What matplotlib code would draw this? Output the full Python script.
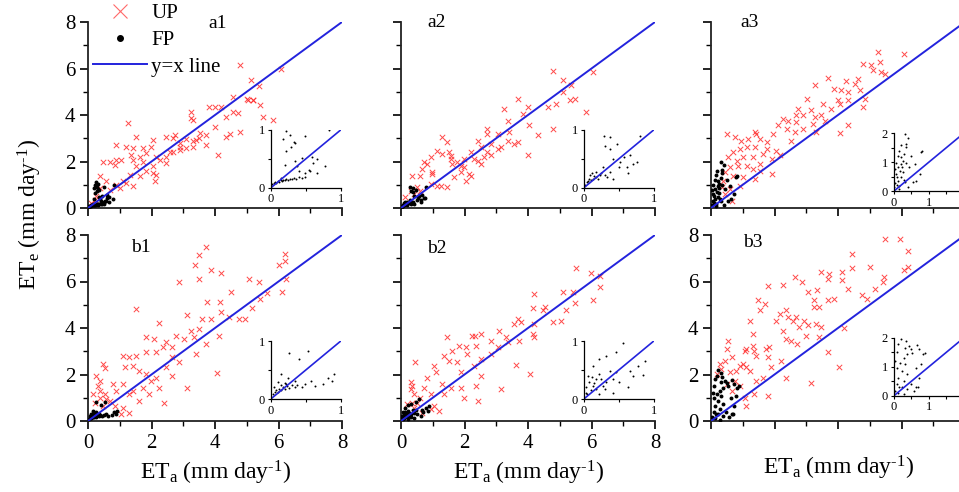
import numpy as np
import matplotlib
matplotlib.use('Agg')
import matplotlib.pyplot as plt
from matplotlib.lines import Line2D

plt.rcParams['font.family'] = ['Liberation Serif', 'DejaVu Serif']
plt.rcParams['mathtext.fontset'] = 'custom'
plt.rcParams['mathtext.rm'] = 'Liberation Serif'
plt.rcParams['mathtext.it'] = 'Liberation Serif:italic'

# ---- data (ETa, ETe in mm/day) ----
# UP = unfrozen period (red crosses), FP = frozen period (black dots)
A1_UP_X = [4.78, 5.14, 5.39, 6.09, 5.41, 5.0, 5.2, 4.57, 4.72, 5.51, 5.83, 4.78, 4.46, 4.36, 4.09, 3.8, 4.0, 4.2,
           3.25, 3.25, 3.52, 3.73, 3.99, 3.1, 3.3, 3.5, 2.89, 2.57, 2.47, 2.73, 2.05, 1.52, 1.26, 0.89, 1.21, 1.42,
           1.73, 1.99, 0.47, 0.68, 0.89, 0.84, 1.05, 1.36, 1.63, 1.73, 1.84, 2.15, 2.26, 2.47, 2.68, 2.89, 3.10,
           3.31, 3.41, 2.47, 2.05, 1.52, 1.84, 2.05, 2.10, 1.63, 1.31, 1.10, 0.89, 0.58, 0.37, 0.37, 0.68, 0.26,
           0.10, 0.21, 1.0, 1.42, 1.21, 2.89, 3.73, 4.36, 4.57, 5.04, 5.2, 3.31, 2.68, 1.42, 2.15]
A1_UP_Y = [6.14, 5.5, 5.24, 6.0, 4.43, 4.7, 4.64, 4.14, 4.07, 3.93, 3.79, 3.29, 3.2, 3.07, 2.29, 4.36, 4.36, 4.36,
           4.14, 3.86, 3.21, 3.14, 3.5, 2.95, 2.9, 3.0, 2.64, 2.43, 3.07, 3.14, 2.93, 3.07, 3.64, 2.71, 2.64, 2.57,
           2.57, 2.64, 2.0, 2.0, 2.07, 1.86, 2.07, 2.29, 2.21, 2.0, 2.36, 2.21, 2.07, 2.21, 2.43, 2.5, 2.57,
           2.64, 2.93, 1.93, 1.79, 1.79, 1.57, 1.5, 1.14, 1.36, 1.43, 1.14, 1.0, 1.14, 1.36, 0.86, 0.79, 0.5,
           0.21, 0.36, 0.86, 0.93, 1.07, 2.79, 2.71, 3.93, 4.79, 4.64, 4.64, 3.79, 3.0, 2.07, 1.43]
A1_FP_X = [0.02, 0.04, 0.06, 0.08, 0.10, 0.12, 0.14, 0.16, 0.18, 0.20, 0.22, 0.25, 0.28, 0.30, 0.33, 0.36, 0.40,
           0.44, 0.49, 0.15, 0.28, 0.49, 0.33, 0.34, 0.29, 0.22, 0.44, 0.34, 0.20, 0.66, 0.61, 0.78, 0.83, 0.56,
           0.66, 0.41, 0.49, 0.59, 0.37, 0.54, 0.26, 0.30, 0.22, 0.18]
A1_FP_Y = [0.06, 0.09, 0.10, 0.09, 0.12, 0.11, 0.13, 0.12, 0.14, 0.13, 0.15, 0.14, 0.16, 0.15, 0.17, 0.16, 0.18,
           0.17, 0.19, 0.17, 0.91, 0.89, 0.80, 0.78, 0.71, 0.63, 0.51, 0.46, 0.40, 0.49, 0.43, 0.37, 1.00, 0.29,
           0.26, 0.29, 0.26, 0.54, 0.37, 0.31, 1.12, 1.05, 0.98, 0.85]

A2_UP_X = [4.78, 5.10, 5.36, 6.05, 5.10, 5.47, 5.31, 4.89, 4.62, 5.84, 3.67, 3.25, 3.99, 3.83, 4.04, 4.78, 4.31,
           3.99, 3.36, 3.41, 3.04, 3.57, 3.67, 2.72, 2.83, 2.51, 2.41, 2.20, 2.72, 3.04, 2.30, 2.51, 1.88, 1.98,
           2.14, 2.04, 1.61, 1.56, 1.51, 1.30, 1.46, 1.30, 1.14, 0.93, 0.72, 0.82, 0.66, 0.97, 0.61, 0.35, 0.93,
           1.25, 1.46, 1.67, 1.88, 0.98, 0.51, 0.30, 0.14, 0.40, 0.61, 1.14, 1.56, 2.41, 2.62, 2.83, 3.15, 3.36,
           1.98, 1.77, 2.72, 2.20]
A2_UP_Y = [5.89, 5.49, 5.27, 5.85, 4.99, 4.70, 4.63, 4.48, 4.34, 4.12, 4.67, 4.27, 4.34, 4.05, 3.55, 3.41, 3.12,
           2.26, 3.76, 3.26, 3.19, 2.76, 2.83, 3.19, 2.76, 2.61, 2.90, 2.40, 2.40, 2.54, 2.11, 1.90, 1.82, 2.11,
           1.47, 1.18, 1.90, 2.11, 2.40, 3.05, 2.83, 2.33, 2.47, 2.18, 1.97, 1.90, 1.68, 1.54, 1.39, 1.39, 1.03,
           0.96, 0.89, 1.32, 1.54, 1.47, 0.89, 0.75, 0.46, 0.60, 0.75, 0.96, 2.25, 2.04, 2.18, 2.26, 2.61, 2.90,
           1.75, 1.97, 3.40, 1.39]
A2_FP_X = [0.29, 0.38, 0.30, 0.47, 0.38, 0.80, 0.66, 0.76, 0.62, 0.42, 0.50, 0.38, 0.28, 0.18, 0.09, 0.13, 0.04,
           0.23, 0.33, 0.42, 0.52, 0.57, 0.18, 0.06, 0.02, 0.11, 0.71, 0.63, 0.15, 0.25, 0.08, 0.20, 0.30, 0.12]
A2_FP_Y = [0.90, 0.87, 0.73, 0.76, 0.67, 0.89, 0.56, 0.45, 0.36, 0.50, 0.36, 0.27, 0.36, 0.27, 0.22, 0.16, 0.10,
           0.22, 0.19, 0.16, 0.45, 0.53, 0.19, 0.12, 0.05, 0.14, 0.42, 0.25, 0.20, 0.25, 0.15, 0.15, 0.22, 0.25]

A3_UP_X = [5.26, 6.07, 5.31, 5.05, 4.79, 5.10, 5.47, 5.36, 3.69, 4.26, 4.63, 4.52, 3.27, 3.87, 4.10, 4.31, 4.68,
           4.31, 3.99, 4.05, 3.01, 4.84, 4.79, 3.53, 3.79, 3.16, 2.74, 2.90, 3.27, 3.48, 3.58, 2.68, 2.43, 2.27,
           2.12, 2.38, 2.64, 2.90, 3.32, 4.31, 4.05, 1.96, 1.75, 1.38, 1.43, 1.54, 1.17, 0.96, 0.75, 0.51, 1.38,
           1.12, 0.91, 0.70, 0.54, 0.81, 1.02, 1.33, 1.64, 2.06, 2.17, 1.91, 1.54, 1.33, 1.12, 0.86, 0.60, 0.70,
           1.02, 1.38, 0.91, 0.60, 0.44, 0.65, 0.44, 0.39, 0.34, 1.75, 2.53, 1.91, 1.54, 3.22, 2.68]
A3_UP_Y = [6.71, 6.61, 6.28, 6.14, 6.21, 5.92, 5.78, 5.85, 5.60, 5.46, 5.56, 5.34, 5.27, 5.13, 5.06, 4.99, 5.06,
           4.63, 4.63, 4.48, 4.70, 4.70, 4.34, 4.48, 4.27, 4.20, 4.27, 3.98, 3.91, 3.98, 3.76, 3.70, 3.76, 3.84,
           3.55, 3.41, 3.26, 3.41, 3.26, 3.59, 3.23, 3.19, 2.83, 3.26, 3.19, 2.97, 2.97, 2.90, 3.05, 3.19, 2.61,
           2.61, 2.54, 2.40, 2.18, 2.04, 2.18, 2.18, 2.33, 2.47, 2.26, 2.11, 1.90, 1.68, 1.82, 1.82, 1.75, 1.39,
           1.32, 1.25, 0.96, 0.82, 0.60, 0.32, 1.54, 1.18, 0.89, 2.54, 2.90, 1.47, 1.61, 3.62, 3.98]
A3_FP_X = [0.31, 0.40, 0.36, 0.12, 0.21, 0.26, 0.36, 0.50, 0.60, 0.45, 0.79, 0.74, 0.64, 0.12, 0.07, 0.21, 0.31,
           0.16, 0.02, 0.40, 0.55, 0.12, 0.04, 0.26, 0.21, 0.34, 0.07, 0.16, 0.05, 0.10, 0.18, 0.25, 0.30, 0.15,
           0.20, 0.08, 0.28, 0.81]
A3_FP_Y = [1.99, 1.85, 1.51, 1.22, 1.17, 1.05, 0.99, 1.22, 0.94, 0.82, 1.34, 0.59, 0.37, 0.82, 0.59, 0.48, 0.31,
           0.19, 0.14, 0.14, 0.31, 0.37, 0.76, 0.65, 0.94, 1.62, 0.99, 0.08, 0.30, 0.50, 0.70, 0.85, 1.30, 1.40,
           1.60, 0.20, 0.40, 1.39]

B1_UP_X = [3.71, 3.50, 3.37, 3.86, 3.50, 4.18, 2.87, 6.00, 6.21, 6.21, 6.23, 5.06, 5.38, 5.64, 6.11, 4.49, 5.17,
           5.43, 4.15, 3.76, 1.51, 3.13, 3.60, 3.86, 4.18, 4.44, 4.75, 4.96, 4.12, 4.07, 3.24, 3.50, 3.71, 3.34,
           3.03, 2.77, 2.24, 1.83, 2.09, 2.45, 2.66, 2.35, 2.14, 2.66, 2.87, 3.13, 3.39, 2.45, 2.66, 1.83, 1.51,
           1.30, 1.10, 1.15, 1.41, 1.62, 1.83, 1.98, 2.14, 2.24, 2.40, 1.41, 1.30, 0.89, 0.78, 0.47, 0.55, 0.26,
           0.37, 0.31, 0.37, 0.52, 0.57, 0.37, 0.68, 0.47, 0.84, 1.10, 1.30, 1.04, 1.62, 1.93, 1.10, 0.16, 0.21,
           1.72]
B1_UP_Y = [7.49, 7.13, 6.70, 6.51, 6.12, 6.38, 5.98, 6.70, 7.18, 6.89, 6.12, 6.12, 5.98, 5.52, 5.55, 5.55, 4.87,
           5.26, 5.12, 5.12, 4.80, 4.57, 4.37, 4.37, 4.68, 4.47, 4.39, 4.39, 3.67, 2.07, 3.89, 3.96, 3.31, 3.60,
           3.53, 3.67, 4.21, 3.63, 3.53, 3.39, 3.20, 3.17, 2.95, 2.74, 2.52, 1.44, 2.88, 2.31, 1.95, 2.95, 2.81,
           2.74, 2.81, 2.31, 2.38, 2.16, 2.02, 1.73, 1.87, 1.44, 0.79, 1.30, 1.15, 1.30, 1.58, 2.45, 2.28, 1.95,
           1.73, 1.51, 1.30, 1.15, 0.94, 1.01, 0.86, 0.65, 0.65, 0.58, 0.36, 0.29, 0.86, 1.15, 1.58, 1.15, 0.79,
           1.44]
B1_FP_X = [0.03, 0.06, 0.08, 0.10, 0.12, 0.15, 0.18, 0.20, 0.23, 0.26, 0.30, 0.34, 0.41, 0.53, 0.25, 0.15, 0.34,
           0.49, 0.63, 0.75, 0.82, 0.87, 0.58, 0.10, 0.20, 0.05, 0.38, 0.45, 0.26, 0.90, 0.22, 0.14]
B1_FP_Y = [0.09, 0.12, 0.15, 0.13, 0.18, 0.16, 0.20, 0.17, 0.22, 0.19, 0.24, 0.21, 0.69, 0.83, 0.37, 0.43, 0.31,
           0.26, 0.23, 0.26, 0.37, 0.31, 0.31, 0.30, 0.28, 0.20, 0.25, 0.20, 0.80, 0.43, 0.26, 0.24]

B2_UP_X = [5.52, 5.97, 6.26, 6.26, 6.05, 5.10, 5.41, 5.47, 5.20, 5.04, 4.78, 4.52, 4.46, 4.20, 4.15, 4.20, 4.15,
           4.20, 4.06, 3.67, 3.78, 3.57, 3.09, 3.30, 3.36, 3.72, 3.62, 3.15, 2.83, 2.51, 2.25, 2.33, 2.35, 2.04,
           1.83, 1.61, 1.46, 1.35, 1.50, 1.77, 2.09, 2.51, 2.30, 1.88, 2.35, 2.41, 1.88, 1.56, 1.30, 1.04, 1.09,
           0.82, 0.72, 0.93, 1.35, 0.93, 1.19, 1.03, 0.45, 0.30, 0.35, 0.30, 0.40, 0.51, 0.61, 0.35, 0.19, 0.40,
           0.66, 1.98, 2.83, 3.04, 2.51]
B2_UP_Y = [6.56, 6.38, 6.22, 5.76, 5.19, 5.55, 5.55, 5.07, 4.76, 4.32, 4.25, 4.90, 4.76, 5.48, 4.86, 4.18, 3.75,
           3.60, 2.02, 4.39, 4.25, 4.18, 3.89, 3.60, 3.39, 3.46, 2.42, 1.37, 3.46, 3.75, 3.67, 3.67, 3.24, 3.17,
           3.24, 3.03, 3.60, 2.81, 2.59, 2.52, 2.88, 2.67, 2.38, 2.09, 1.51, 0.86, 1.44, 1.44, 1.59, 2.38, 2.09,
           1.87, 1.44, 1.15, 1.15, 0.50, 0.43, 0.65, 2.52, 1.66, 1.51, 1.37, 1.15, 0.79, 1.01, 0.79, 0.72, 0.58,
           0.36, 1.01, 2.88, 3.17, 1.95]
B2_FP_X = [0.56, 0.46, 0.32, 0.22, 0.13, 0.06, 0.22, 0.37, 0.46, 0.78, 0.85, 0.70, 0.63, 0.42, 0.13, 0.18, 0.03,
           0.08, 0.32, 0.51, 0.42, 0.27, 0.66, 0.18, 0.03, 0.22, 0.10, 0.15, 0.25, 0.05, 0.30, 0.12, 0.88]
B2_FP_Y = [0.96, 0.81, 0.74, 0.69, 0.57, 0.40, 0.43, 0.49, 0.46, 0.57, 0.41, 0.40, 0.20, 0.11, 0.23, 0.17, 0.11,
           0.29, 0.29, 0.29, 0.34, 0.23, 0.49, 0.34, 0.20, 0.09, 0.15, 0.28, 0.35, 0.08, 0.18, 0.38, 0.65]

B3_UP_X = [5.49, 5.94, 6.20, 4.45, 5.00, 6.20, 6.07, 5.44, 5.42, 5.18, 4.45, 4.14, 4.14, 3.72, 3.46, 3.67, 4.32,
           3.88, 4.76, 4.92, 3.04, 3.35, 3.25, 3.25, 3.67, 3.41, 4.19, 4.03, 3.15, 2.86, 2.63, 2.26, 1.79, 1.48,
           1.53, 1.69, 2.05, 2.16, 2.36, 2.68, 2.94, 3.30, 3.46, 3.04, 2.76, 2.57, 2.41, 2.26, 2.36, 2.51, 2.72,
           3.00, 3.41, 3.67, 1.84, 1.74, 1.79, 1.90, 2.21, 2.36, 1.79, 1.22, 1.32, 1.32, 1.37, 1.43, 1.11, 1.06,
           1.01, 1.11, 1.22, 0.91, 0.80, 0.54, 0.49, 0.65, 0.44, 0.28, 0.33, 0.59, 0.75, 0.49, 0.65, 0.91, 1.06,
           1.09, 1.37, 0.18, 1.43, 1.64]
B3_UP_Y = [7.82, 7.82, 7.32, 7.20, 6.63, 6.63, 6.48, 6.20, 5.98, 5.69, 6.56, 6.41, 6.05, 6.34, 6.41, 6.12, 5.69,
           5.26, 5.40, 5.26, 5.55, 5.62, 5.19, 4.90, 5.19, 4.90, 4.01, 2.31, 1.63, 5.98, 6.20, 5.84, 5.81, 5.22,
           4.76, 5.04, 4.32, 4.61, 4.76, 4.47, 4.32, 4.18, 4.03, 4.11, 4.03, 4.32, 4.47, 3.89, 3.53, 3.46, 3.31,
           3.67, 3.60, 2.95, 3.17, 3.10, 2.74, 2.31, 2.59, 1.87, 1.08, 4.32, 3.75, 3.24, 3.03, 2.81, 3.10, 3.03,
           2.45, 2.31, 2.16, 2.38, 2.16, 3.46, 3.10, 2.74, 2.59, 2.45, 2.23, 2.09, 1.73, 1.59, 1.30, 1.51, 1.01,
           0.65, 1.15, 2.02, 1.73, 1.87]
B3_FP_X = [0.13, 0.43, 0.66, 0.73, 0.83, 0.53, 0.38, 0.28, 0.18, 0.33, 0.08, 0.23, 0.38, 0.13, 0.28, 0.08, 0.23,
           0.38, 0.58, 0.73, 0.68, 0.03, 0.13, 0.28, 0.48, 0.63, 0.78, 0.88, 0.33, 0.50, 0.23, 0.30, 0.20, 0.10,
           0.05, 0.15, 0.35, 0.65]
B3_FP_Y = [1.79, 1.71, 1.77, 1.60, 1.43, 1.49, 1.43, 1.31, 1.14, 1.09, 0.97, 0.86, 0.74, 0.63, 0.51, 0.40, 0.29,
           0.23, 0.17, 0.63, 0.29, 0.17, 0.11, 0.06, 0.40, 0.97, 1.09, 1.49, 1.66, 1.63, 2.20, 2.05, 1.95, 1.50,
           1.20, 0.30, 1.90, 0.32]

PANELS = ['a1', 'a2', 'a3', 'b1', 'b2', 'b3']
UP_X = [A1_UP_X, A2_UP_X, A3_UP_X, B1_UP_X, B2_UP_X, B3_UP_X]
UP_Y = [A1_UP_Y, A2_UP_Y, A3_UP_Y, B1_UP_Y, B2_UP_Y, B3_UP_Y]
FP_X = [A1_FP_X, A2_FP_X, A3_FP_X, B1_FP_X, B2_FP_X, B3_FP_X]
FP_Y = [A1_FP_Y, A2_FP_Y, A3_FP_Y, B1_FP_Y, B2_FP_Y, B3_FP_Y]
INSET_LIM = [1, 1, 2, 1, 1, 2]

RED = '#ff2a2a'
BLUE = '#2323dd'
FW, FH = 959, 492

fig = plt.figure(figsize=(FW / 100, FH / 100), dpi=100)

col_left = [88, 401, 711]
row_top = [22, 235]
ax_w, ax_h = 254, 186

# label positions (axes fraction) per panel
lab_pos = [(0.51, 0.99), (0.14, 1.0), (0.15, 1.0), (0.21, 0.935), (0.14, 0.93), (0.165, 0.96)]
show_x = [False, False, False, True, True, False]
show_y = [True, False, False, True, False, True]
inset_y0 = [0.108, 0.108, 0.09, 0.118, 0.118, 0.135]

axes = []
for i, name in enumerate(PANELS):
    r, c = divmod(i, 3)
    l = col_left[c] / FW
    b = 1 - (row_top[r] + ax_h) / FH
    ax = fig.add_axes([l, b, ax_w / FW, ax_h / FH])
    axes.append(ax)

    ax.scatter(UP_X[i], UP_Y[i], marker='x', s=15, c=RED, linewidths=0.7, alpha=0.85, zorder=2)
    ax.scatter(FP_X[i], FP_Y[i], marker='o', s=8, c='black', linewidths=0, zorder=3)
    ax.plot([0, 8], [0, 8], color=BLUE, lw=1.4, zorder=4)

    ax.set_xlim(0, 8)
    ax.set_ylim(0, 8)
    ax.set_xticks([0, 2, 4, 6, 8])
    ax.set_yticks([0, 2, 4, 6, 8])
    ax.set_xticks([1, 3, 5, 7], minor=True)
    ax.set_yticks([1, 3, 5, 7], minor=True)
    for s in ['top', 'right']:
        ax.spines[s].set_visible(False)
    for s in ['left', 'bottom']:
        ax.spines[s].set_linewidth(1.3)
        ax.spines[s].set_color('#222222')
    ax.tick_params(which='major', direction='out', length=6, width=1.2, labelsize=15, pad=3)
    ax.tick_params(which='minor', direction='out', length=3.5, width=1.0)
    ax.tick_params(labelbottom=show_x[i], labelleft=show_y[i])

    ax.text(lab_pos[i][0], lab_pos[i][1], name, transform=ax.transAxes, fontsize=14,
            ha='center', va='center')

    # inset with FP points only
    lim = INSET_LIM[i]
    iw = 70 / ax_w
    ins = ax.inset_axes([1 - iw - 0.005, inset_y0[i], iw, 58 / ax_h])
    ins.patch.set_alpha(0)
    ins.scatter(FP_X[i], FP_Y[i], marker='o', s=2, c='black', linewidths=0)
    ins.plot([0, lim], [0, lim], color=BLUE, lw=1.2)
    ins.set_xlim(0, lim)
    ins.set_ylim(0, lim)
    for s in ['top', 'right']:
        ins.spines[s].set_visible(False)
    for s in ['left', 'bottom']:
        ins.spines[s].set_linewidth(0.9)
    if lim == 1:
        ins.set_xticks([0, 0.5, 1])
        ins.set_xticklabels(['0', '', '1'])
        ins.set_yticks([0, 0.5, 1])
        ins.set_yticklabels(['0', '', '1'])
    else:
        ins.set_xticks([0, 0.5, 1, 1.5, 2])
        ins.set_xticklabels(['0', '', '1', '', ''])
        ins.set_yticks([0, 0.5, 1, 1.5, 2])
        ins.set_yticklabels(['0', '', '1', '', '2'])
    ins.tick_params(direction='out', length=2.5, width=0.8, labelsize=9, pad=1.5)

# legend in a1
handles = [
    Line2D([], [], marker='x', ls='none', color=RED, markersize=10, markeredgewidth=0.8, alpha=0.7),
    Line2D([], [], marker='o', ls='none', color='black', markersize=4),
    Line2D([], [], color=BLUE, lw=1.4),
]
axes[0].legend(handles, ['UP', 'FP', 'y=x line'], loc='upper left', bbox_to_anchor=(0.02, 1.1),
               frameon=False, fontsize=15, handlelength=2.6, handletextpad=0.2, labelspacing=0.35,
               borderaxespad=0, borderpad=0)

# axis labels (hyphen instead of minus in the exponent, as in the original)
unit = ' (mm day$^{\\mathregular{\u20101}}$)'
fig.text(0.031, 0.563, 'ET$_{\\mathregular{e}}$' + unit, rotation=90,
         ha='center', va='center', fontsize=17)
xl = 'ET$_{\\mathregular{a}}$' + unit
axes[3].text(0.5, -0.28, xl, transform=axes[3].transAxes, ha='center', va='center', fontsize=17)
axes[4].text(0.5, -0.28, xl, transform=axes[4].transAxes, ha='center', va='center', fontsize=17)
axes[5].text(0.5, -0.25, xl, transform=axes[5].transAxes, ha='center', va='center', fontsize=17)

fig.savefig('out.png', dpi=100)
